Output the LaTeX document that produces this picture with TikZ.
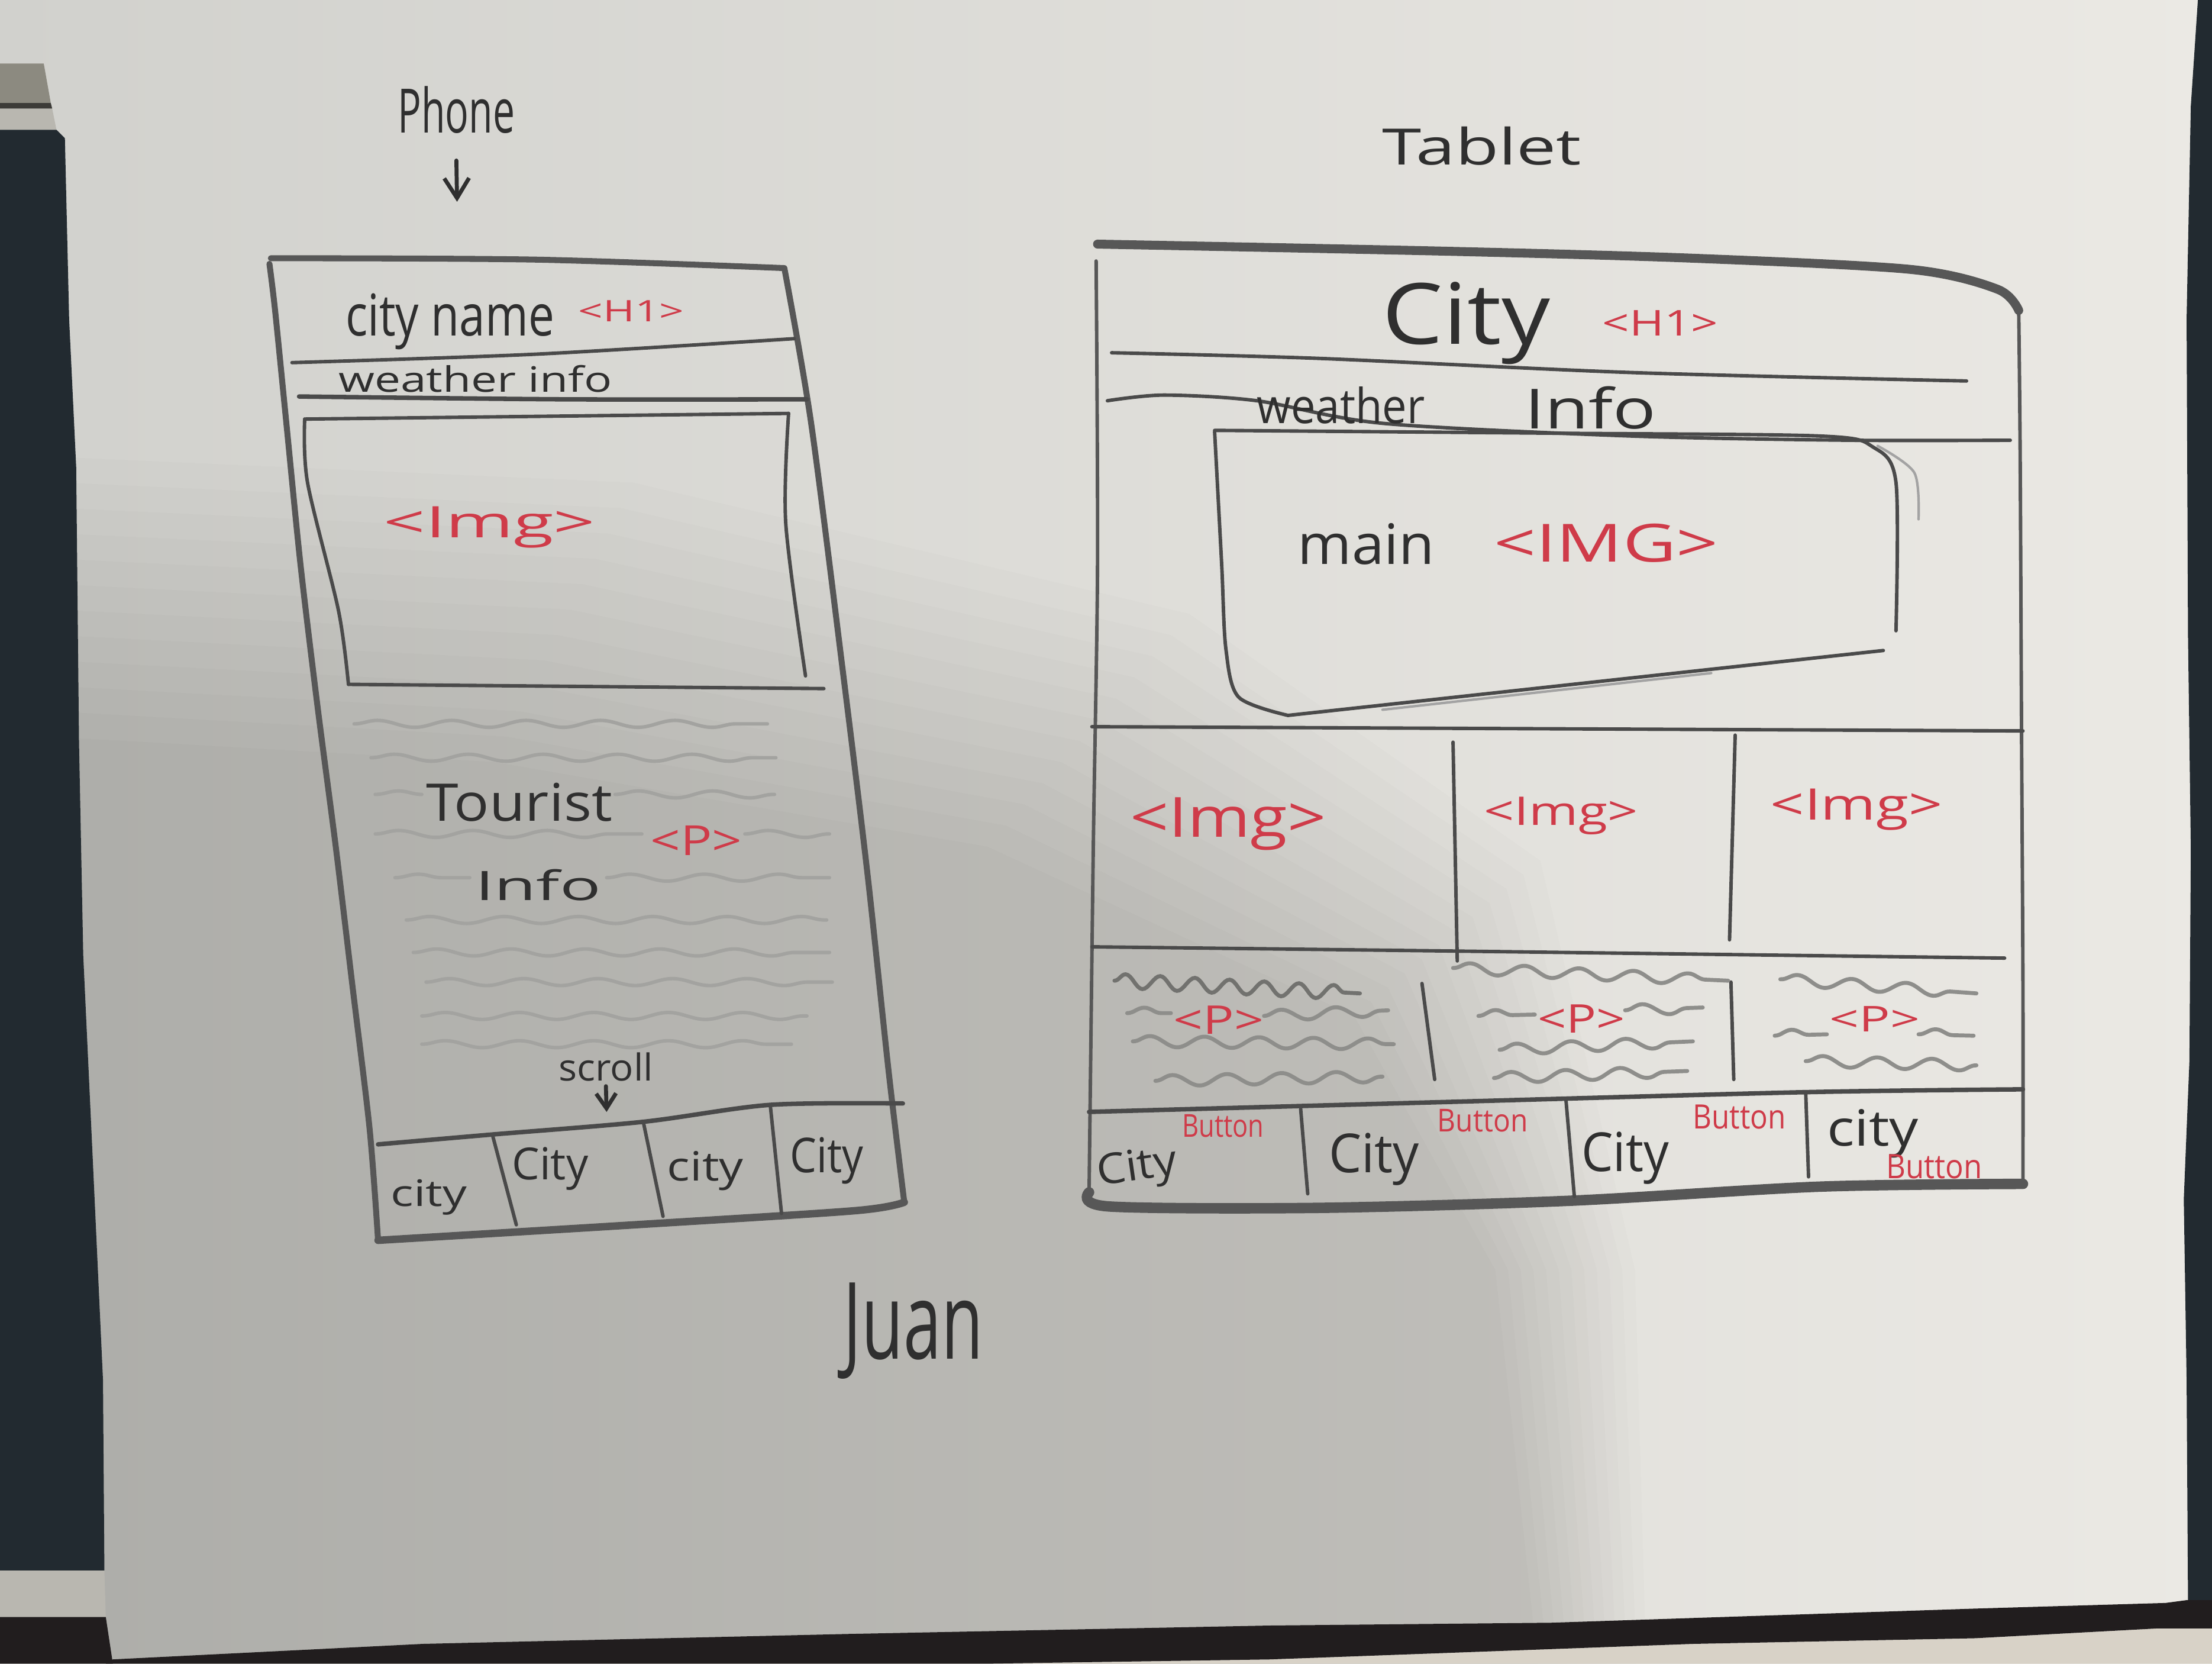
\documentclass[tikz,border=0pt]{standalone}
\usepackage{fontspec}
\setmainfont{Open Sans}
\usepackage{graphicx}
\usetikzlibrary{arrows.meta,decorations.pathmorphing}

\newlength\pxu
\setlength\pxu{0.01cm}
% hand lettering squeezed into a box of given width and height (sketch units)
\newcommand\hw[3]{\resizebox{#1\pxu}{#2\pxu}{#3}}

\definecolor{paperL}{HTML}{D1D1CD}
\definecolor{paperR}{HTML}{EBE9E4}
\definecolor{floorC}{HTML}{D8D2C7}
\definecolor{deskL}{HTML}{222A30}
\definecolor{deskB}{HTML}{211D1E}
\definecolor{bandG}{HTML}{8C8A80}
\definecolor{bandL}{HTML}{B9B7B0}
\definecolor{bandD}{HTML}{3C3B37}
\definecolor{graphite}{HTML}{575757}
\definecolor{lead}{HTML}{2F2F2F}
\definecolor{redpen}{HTML}{CF3B49}
\definecolor{smudge}{HTML}{A3A3A0}
\definecolor{smudgeT}{HTML}{8E8E8B}

\tikzset{
  rim/.style={draw=graphite, line width=1.2pt, line cap=round, line join=round},
  rimheavy/.style={draw=graphite, line width=1.8pt, line cap=round, line join=round},
  rimslim/.style={draw=graphite, line width=0.7pt, line cap=round, line join=round},
  penline/.style={draw=graphite!85!black, line width=0.7pt, line cap=round, line join=round},
  faintline/.style={draw=graphite!55, line width=0.5pt, line cap=round},
  hand/.style={inner sep=0pt, outer sep=0pt, anchor=base west, text=lead},
  redhand/.style={hand, text=redpen},
  pwave/.style={draw=smudge, line width=0.7pt, line cap=round, decorate,
    decoration={snake, amplitude=0.7pt, segment length=15pt}},
  twave/.style={draw=smudgeT, line width=0.8pt, line cap=round, decorate,
    decoration={snake, amplitude=1.1pt, segment length=11pt}},
  zwave/.style={draw=smudgeT!80!black, line width=0.8pt, line cap=round, decorate,
    decoration={snake, amplitude=1.4pt, segment length=7pt}},
  pointer/.style={draw=lead, line width=0.8pt, line cap=round,
    -{Straight Barb[length=4pt,width=5pt]}},
}

\begin{document}
\begin{tikzpicture}[x=0.01cm, y=-0.01cm]
\useasboundingbox (0,0) rectangle (1568,1179);
\clip (0,0) rectangle (1568,1179);

% ---------- the sheet and what lies round it ----------
\shade[left color=paperL, right color=paperR] (0,0) rectangle (1568,1179);
% soft shadow over the lower left, built from thin nested layers
\foreach \k in {0,...,11} {
  \fill[black, opacity=0.0125]
    (0,{520-18*\k}) -- ({350+9*\k},{540-18*\k}) -- ({700+13*\k},{600-15*\k})
    -- ({960+12*\k},{720-10*\k}) -- ({1060+9*\k},900) -- ({1090+7*\k},1179)
    -- (0,1179) -- cycle;
}
% left side
\fill[bandG] (0,45) -- (31,45) -- (36,73) -- (0,73) -- cycle;
\fill[bandD] (0,73) -- (36,73) -- (37,77) -- (0,77) -- cycle;
\fill[bandL] (0,77) -- (37,77) -- (40,92) -- (0,92) -- cycle;
\fill[deskL] (0,92) -- (40,92) -- (46,98) -- (49,226) -- (54,331) -- (56,526)
  -- (59,677) -- (66,827) -- (73,978) -- (74,1113) -- (0,1113) -- cycle;
\fill[bandL] (0,1113) -- (74,1113) -- (75,1146) -- (0,1146) -- cycle;
\fill[deskB] (0,1146) -- (75,1146) -- (80,1179) -- (0,1179) -- cycle;
% right side
\fill[deskL] (1558,0) -- (1553,75) -- (1550,226) -- (1551,451) -- (1553,602)
  -- (1552,752) -- (1548,850) -- (1550,978) -- (1551,1134) -- (1568,1134)
  -- (1568,0) -- cycle;
% lower edge
\fill[floorC] (700,1179) -- (900,1176) -- (1200,1165) -- (1400,1161)
  -- (1530,1154) -- (1568,1154) -- (1568,1179) -- cycle;
\fill[deskB] (75,1179) -- (80,1176) -- (300,1165) -- (600,1158) -- (900,1152)
  -- (1100,1150) -- (1250,1145) -- (1400,1140) -- (1535,1136) -- (1550,1134)
  -- (1568,1134) -- (1568,1154) -- (1530,1154) -- (1400,1161) -- (1200,1165)
  -- (900,1176) -- (700,1179) -- cycle;

% ---------- phone layout ----------
\node[hand] (phlbl) at (282,94) {\hw{83}{33}{Phone}};
\coordinate (phonetop) at (324,143);
\draw[pointer] ([yshift=-5.5pt]phlbl.south) -- (phonetop);

% frame
\draw[rim] plot[smooth, tension=0.5] coordinates {(192,183) (380,184) (556,190)};
\draw[rim] plot[smooth, tension=0.5] coordinates
  {(556,190) (575,300) (598,480) (615,620) (630,760) (641,852)};
\draw[rim, line width=1.5pt] plot[smooth, tension=0.5] coordinates
  {(641,852) (606,858) (450,868) (268,879)};
\draw[rim] plot[smooth, tension=0.5] coordinates
  {(268,879) (262,800) (250,700) (238,600) (225,500) (213,400) (203,300) (195,220) (191,187)};

% header rows
\draw[penline] plot[smooth, tension=0.5] coordinates {(207,257) (380,251) (563,240)};
\draw[penline, line width=0.9pt] plot[smooth, tension=0.5] coordinates {(212,281) (400,283) (572,283)};
\node[hand] (phname) at (245,238) {\hw{148}{30}{city name}};
\node[redhand] (phh1) at (410,228) {\hw{75}{15}{<H1>}};
\node[hand] (phweather) at (240,278) {\hw{194}{19}{weather info}};

% picture box
\draw[penline] (216,297) -- (559,293);
\draw[penline] plot[smooth, tension=0.5] coordinates {(559,293) (557,371) (571,479)};
\draw[penline] (247,485) -- (584,488);
\draw[penline] plot[smooth, tension=0.5] coordinates {(216,297) (218,342) (240,433) (247,485)};
\node[redhand] (phimg) at (272,381) {\hw{150}{22}{<Img>}};

% paragraph scribbles
\draw[pwave] (251,513) -- (544,513);
\draw[pwave] (263,537) -- (550,537);
\draw[pwave] (266,563) -- (299,563);
\draw[pwave] (436,563) -- (549,563);
\draw[pwave] (266,591) -- (455,591);
\draw[pwave] (528,591) -- (588,591);
\draw[pwave] (280,622) -- (333,622);
\draw[pwave] (430,622) -- (588,622);
\draw[pwave] (288,652) -- (586,652);
\draw[pwave] (293,675) -- (588,675);
\draw[pwave] (302,696) -- (590,696);
\draw[pwave] (299,720) -- (572,720);
\draw[pwave] (299,740) -- (561,740);
\node[hand] (tourist) at (302,582) {\hw{132}{27}{Tourist}};
\node[hand] (phinfo) at (337,638) {\hw{89}{22}{Info}};
\node[redhand] (php) at (461,606) {\hw{65}{21}{<P>}};

\node[hand] (scroll) at (396,766) {\hw{67}{20}{scroll}};
\coordinate (citybar) at (430,788);
\draw[pointer, -{Straight Barb[length=3pt,width=4pt]}] ([yshift=-1pt]scroll.south) -- (citybar);

% city buttons
\draw[penline, line width=0.9pt] plot[smooth, tension=0.5] coordinates
  {(268,811) (349,804) (456,795) (546,783) (640,782)};
\draw[penline] (349,804) -- (366,868);
\draw[penline] (456,795) -- (470,862);
\draw[penline] (546,783) -- (554,860);
\node[hand] (pc1) at (277,855) {\hw{54}{19}{city}};
\node[hand] (pc2) at (363,836) {\hw{54}{23}{City}};
\node[hand] (pc3) at (473,837) {\hw{54}{21}{city}};
\node[hand] (pc4) at (560,831) {\hw{52}{25}{City}};

% ---------- tablet layout ----------
\node[hand] (tblbl) at (980,117) {\hw{141}{27}{Tablet}};

% frame
\draw[rimheavy] plot[smooth, tension=0.5] coordinates
  {(778,173) (1024,178) (1200,183) (1355,191) (1416,205) (1431,220)};
\draw[rimslim] plot[smooth, tension=0.5] coordinates
  {(1431,220) (1432,320) (1433,520) (1434,700) (1434,840)};
\draw[rimheavy, line width=2.1pt] plot[smooth, tension=0.5] coordinates
  {(1434,839) (1289,841) (1112,851) (935,856) (786,855) (772,845)};
\draw[rimslim] plot[smooth, tension=0.5] coordinates
  {(772,846) (775,600) (778,400) (777,185)};

% header rows
\draw[penline] plot[smooth, tension=0.5] coordinates
  {(788,250) (935,254) (1156,264) (1394,270)};
\draw[penline] plot[smooth, tension=0.5] coordinates
  {(785,284) (825,280) (891,284) (980,300) (1156,309) (1311,312) (1425,312)};
\node[hand] (tcity) at (980,244) {\hw{119}{44}{City}};
\node[redhand] (th1) at (1136,238) {\hw{82}{18}{<H1>}};
\node[hand] (tweather) at (891,300) {\hw{119}{26}{weather}};
\node[hand] (tinfo) at (1081,304) {\hw{93}{30}{Info}};

% main picture box
\draw[penline] plot[smooth, tension=0.5] coordinates
  {(861,305) (1100,307) (1290,309) (1328,317) (1344,342) (1344,447)};
\draw[penline] plot[smooth, tension=0.5] coordinates
  {(861,306) (866,400) (869,460) (878,494) (913,507)};
\draw[penline] (913,507) -- (1335,461);
\draw[faintline] plot[smooth, tension=0.5] coordinates {(1331,316) (1357,335) (1360,368)};
\draw[faintline] (980,503) -- (1213,477);
\node[hand] (tmain) at (920,400) {\hw{97}{29}{main}};
\node[redhand] (tmainimg) at (1059,398) {\hw{159}{27}{<IMG>}};

% picture row
\draw[penline] (774,515) -- (1434,518);
\draw[penline] (1030,526) -- (1033,681);
\draw[penline] (1230,521) -- (1226,666);
\node[redhand] (timg1) at (801,593) {\hw{139}{28}{<Img>}};
\node[redhand] (timg2) at (1052,585) {\hw{109}{20}{<Img>}};
\node[redhand] (timg3) at (1255,581) {\hw{122}{22}{<Img>}};

% paragraph row
\draw[penline] plot[smooth, tension=0.5] coordinates {(774,671) (1030,674) (1421,679)};
\draw[penline] (1008,697) -- (1017,765);
\draw[penline] (1227,696) -- (1229,765);
\draw[zwave] (790,695) -- (964,704);
\draw[twave] (799,718) -- (830,718);
\draw[twave] (896,720) -- (984,716);
\draw[twave] (803,738) -- (988,740);
\draw[twave] (819,766) -- (980,763);
\draw[twave] (1030,686) -- (1225,695);
\draw[twave] (1048,720) -- (1088,719);
\draw[twave] (1152,716) -- (1207,714);
\draw[twave] (1063,744) -- (1200,738);
\draw[twave] (1059,764) -- (1196,759);
\draw[twave] (1262,694) -- (1401,704);
\draw[twave] (1258,734) -- (1295,733);
\draw[twave] (1360,733) -- (1399,734);
\draw[twave] (1280,752) -- (1401,755);
\node[redhand] (tp1) at (832,733) {\hw{64}{20}{<P>}};
\node[redhand] (tp2) at (1090,732) {\hw{62}{20}{<P>}};
\node[redhand] (tp3) at (1297,731) {\hw{64}{18}{<P>}};

% city buttons
\draw[penline, line width=0.9pt] plot[smooth, tension=0.5] coordinates
  {(772,788) (1024,781) (1280,774) (1434,772)};
\draw[penline] (922,786) -- (927,846);
\draw[penline] (1110,779) -- (1116,848);
\draw[penline] (1280,774) -- (1282,834);
\node[hand, rotate=8] (tc1) at (779,840) {\hw{57}{22}{City}};
\node[redhand] (tb1) at (838,806) {\hw{58}{16}{Button}};
\node[hand] (tc2) at (942,831) {\hw{64}{28}{City}};
\node[redhand] (tb2) at (1019,802) {\hw{64}{16}{Button}};
\node[hand] (tc3) at (1121,830) {\hw{62}{28}{City}};
\node[redhand] (tb3) at (1200,800) {\hw{66}{17}{Button}};
\node[hand] (tc4) at (1295,812) {\hw{65}{26}{city}};
\node[redhand] (tb4) at (1337,835) {\hw{68}{17}{Button}};

% ---------- signature ----------
\node[hand] (sig) at (598,963) {\hw{99}{54}{Juan}};
\end{tikzpicture}
\end{document}
